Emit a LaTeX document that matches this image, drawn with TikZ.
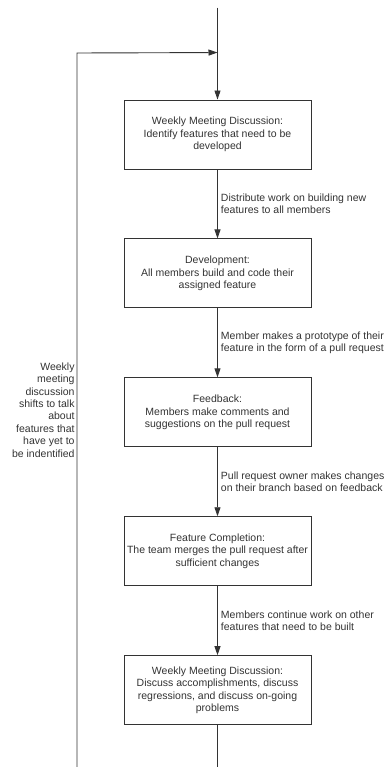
\documentclass[tikz,border=0pt]{standalone}
\usepackage{fontspec}
\setmainfont{Liberation Sans}
\usepackage{tikz}
\usetikzlibrary{arrows.meta, positioning}
\definecolor{ink}{HTML}{333333}

\begin{document}
\begin{tikzpicture}[
    x=1pt, y=1pt,
    node distance=69pt,
    every node/.style={font=\fontsize{10.5}{12.4}\selectfont, text=ink},
    stage/.style={
        rectangle, draw=ink, line width=0.9pt,
        minimum width=187pt, minimum height=69pt,
        inner sep=0pt, align=center
    },
    conn/.style={line width=0.9pt, draw=ink},
    arr/.style={conn, -{Triangle[length=9pt, width=6pt]}},
    lbl/.style={right, align=left, inner sep=3pt},
    sidelbl/.style={left, align=right, inner sep=2pt},
]

\useasboundingbox (0,0) rectangle (383,-767);

\node[stage] (meet1) at (217.5,-134.5) {Weekly Meeting Discussion:\\Identify features that need to be\\developed};
\node[stage, below=of meet1] (dev) {Development:\\All members build and code their\\assigned feature};
\node[stage, below=of dev] (feedback) {Feedback:\\Members make comments and\\suggestions on the pull request};
\node[stage, below=of feedback] (complete) {Feature Completion:\\The team merges the pull request after\\sufficient changes};
\node[stage, below=of complete] (meet2) {Weekly Meeting Discussion:\\Discuss accomplishments, discuss\\regressions, and discuss on-going\\problems};

\coordinate[above=92pt of meet1.north] (top);
\coordinate[above=47pt of meet1.north] (join);
\coordinate (corner) at (77,-53);
\coordinate (bottomL) at (77,-767);
\coordinate (bottom) at (meet2 |- bottomL);

% ── Main flow ──────
\draw[arr] (top) -- (meet1);
\draw[arr] (meet1) -- node[lbl] {Distribute work on building new\\features to all members} (dev);
\draw[arr] (dev) -- node[lbl] {Member makes a prototype of their\\feature in the form of a pull request} (feedback);
\draw[arr] (feedback) -- node[lbl] {Pull request owner makes changes\\on their branch based on feedback} (complete);
\draw[arr] (complete) -- node[lbl] {Members continue work on other\\features that need to be built} (meet2);
\draw[conn] (meet2) -- (bottom);

% ── Loop back ──────
\draw[arr] (bottomL) -- node[sidelbl] {Weekly\\meeting\\discussion\\shifts to talk\\about\\features that\\have yet to\\be indentified} (corner) -- (join);

\end{tikzpicture}
\end{document}
